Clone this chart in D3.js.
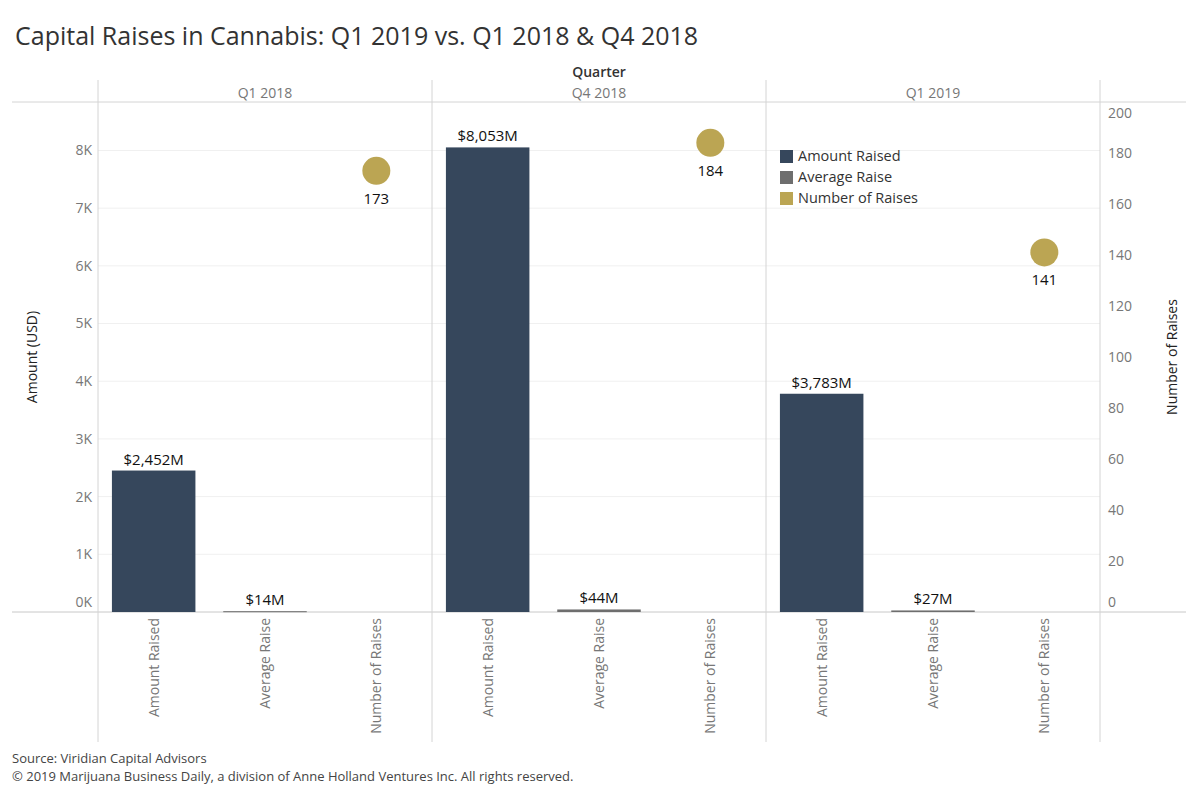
<!DOCTYPE html>
<html lang="en">
<head>
    <meta charset="UTF-8">
    <script src="https://d3js.org/d3.v7.min.js"></script>
    <title>Capital Raises in Cannabis</title>
    <style>
        body {
            margin: 0;
            overflow: hidden;
            background: white;
        }
        text {
            font-family: "Open Sans", sans-serif;
        }
    </style>
</head>
<body>
    <script>
        const quarters = ["Q1 2018", "Q4 2018", "Q1 2019"];
        const measures = ["Amount Raised", "Average Raise", "Number of Raises"];
        const amountRaised = [2452, 8053, 3783];   // $M
        const averageRaise = [14, 44, 27];        // $M
        const numberOfRaises = [173, 184, 141];
        const leftTicks = [0, 1000, 2000, 3000, 4000, 5000, 6000, 7000, 8000];
        const rightTicks = [0, 20, 40, 60, 80, 100, 120, 140, 160, 180, 200];

        const width = 1200, height = 800;
        const margin = { top: 102, left: 98, right: 100, bottom: 188 };
        const plotBottom = height - margin.bottom; // 612

        const svg = d3.select('body')
            .append('svg')
            .attr('width', width)
            .attr('height', height);

        const color = d3.scaleOrdinal()
            .domain(measures)
            .range(["#36475c", "#6e6e6e", "#bba553"]);

        const xQuarter = d3.scaleBand()
            .domain(quarters)
            .range([margin.left, width - margin.right])
            .padding(0);

        const xMeasure = d3.scaleBand()
            .domain(measures)
            .range([0, xQuarter.bandwidth()])
            .paddingInner(0.25)
            .paddingOuter(0.125);

        const yLeft = d3.scaleLinear()
            .domain([0, 8840])
            .range([plotBottom, margin.top]);

        const yRight = d3.scaleLinear()
            .domain([0, 200])
            .range([plotBottom, margin.top]);

        // gridlines
        svg.append('g')
            .selectAll('line')
            .data(leftTicks.slice(1))
            .enter()
            .append('line')
            .attr('x1', margin.left)
            .attr('x2', width - margin.right)
            .attr('y1', d => yLeft(d))
            .attr('y2', d => yLeft(d))
            .attr('stroke', '#f0f0f0')
            .attr('stroke-width', 1);

        // frame lines
        svg.append('line')
            .attr('x1', 12).attr('x2', 1186)
            .attr('y1', margin.top).attr('y2', margin.top)
            .attr('stroke', '#d4d4d4');
        svg.append('line')
            .attr('x1', 12).attr('x2', 1186)
            .attr('y1', plotBottom).attr('y2', plotBottom)
            .attr('stroke', '#c8c8c8');

        const dividers = quarters.map(q => xQuarter(q)).concat([width - margin.right]);
        svg.append('g')
            .selectAll('line')
            .data(dividers)
            .enter()
            .append('line')
            .attr('x1', d => d).attr('x2', d => d)
            .attr('y1', 80).attr('y2', 742)
            .attr('stroke', '#d4d4d4');

        // header
        svg.append('text')
            .attr('x', (margin.left + width - margin.right) / 2)
            .attr('y', 77)
            .attr('text-anchor', 'middle')
            .style('font-size', '14px')
            .style('font-weight', 600)
            .attr('fill', '#333')
            .text('Quarter');

        svg.append('g')
            .selectAll('text')
            .data(quarters)
            .enter()
            .append('text')
            .attr('x', d => xQuarter(d) + xQuarter.bandwidth() / 2)
            .attr('y', 98)
            .attr('text-anchor', 'middle')
            .style('font-size', '14px')
            .attr('fill', '#777')
            .text(d => d);

        // data marks
        const panel = svg.selectAll('g.panel')
            .data(quarters)
            .enter()
            .append('g')
            .attr('class', 'panel')
            .attr('transform', d => `translate(${xQuarter(d)},0)`);

        const bars = quarters.map((q, i) => [
            { q, m: "Amount Raised", v: amountRaised[i] },
            { q, m: "Average Raise", v: averageRaise[i] }
        ]);

        panel.each(function(q, i) {
            const g = d3.select(this);
            g.selectAll('rect')
                .data(bars[i])
                .enter()
                .append('rect')
                .attr('x', d => xMeasure(d.m))
                .attr('width', xMeasure.bandwidth())
                .attr('y', d => yLeft(d.v))
                .attr('height', d => Math.max(1, plotBottom - yLeft(d.v)))
                .attr('fill', d => color(d.m));

            g.selectAll('text.barlabel')
                .data(bars[i])
                .enter()
                .append('text')
                .attr('class', 'barlabel')
                .attr('x', d => xMeasure(d.m) + xMeasure.bandwidth() / 2)
                .attr('y', d => yLeft(d.v) - 6)
                .attr('text-anchor', 'middle')
                .style('font-size', '15px')
                .attr('fill', '#111')
                .text(d => '$' + d3.format(',')(d.v) + 'M');

            const cx = xMeasure("Number of Raises") + xMeasure.bandwidth() / 2;
            g.append('circle')
                .attr('cx', cx)
                .attr('cy', yRight(numberOfRaises[i]))
                .attr('r', 14)
                .attr('fill', color("Number of Raises"));

            g.append('text')
                .attr('x', cx)
                .attr('y', yRight(numberOfRaises[i]) + 33)
                .attr('text-anchor', 'middle')
                .style('font-size', '15px')
                .attr('fill', '#111')
                .text(numberOfRaises[i]);

            // category labels
            g.selectAll('text.cat')
                .data(measures)
                .enter()
                .append('text')
                .attr('class', 'cat')
                .attr('transform', d => `translate(${xMeasure(d) + xMeasure.bandwidth() / 2 + 5},${plotBottom + 6}) rotate(-90)`)
                .attr('text-anchor', 'end')
                .style('font-size', '14px')
                .attr('fill', '#777')
                .text(d => d);
        });

        // left axis labels
        svg.append('g')
            .selectAll('text')
            .data(leftTicks)
            .enter()
            .append('text')
            .attr('x', 92)
            .attr('y', d => d === 0 ? yLeft(d) - 10 : yLeft(d))
            .attr('dy', '0.35em')
            .attr('text-anchor', 'end')
            .style('font-size', '14px')
            .attr('fill', '#777')
            .text(d => d3.format('d')(d / 1000) + 'K');

        // right axis labels
        svg.append('g')
            .selectAll('text')
            .data(rightTicks)
            .enter()
            .append('text')
            .attr('x', 1108)
            .attr('y', d => d === 0 ? yRight(d) - 10 : (d === 200 ? yRight(d) + 11 : yRight(d)))
            .attr('dy', '0.35em')
            .attr('text-anchor', 'start')
            .style('font-size', '14px')
            .attr('fill', '#777')
            .text(d => d);

        svg.append('text')
            .attr('transform', `translate(37,357) rotate(-90)`)
            .attr('text-anchor', 'middle')
            .style('font-size', '14px')
            .attr('fill', '#222')
            .text('Amount (USD)');

        svg.append('text')
            .attr('transform', `translate(1177,357) rotate(-90)`)
            .attr('text-anchor', 'middle')
            .style('font-size', '14px')
            .attr('fill', '#222')
            .text('Number of Raises');

        // legend
        const legend = svg.append('g')
            .attr('transform', 'translate(780,156)');

        legend.selectAll('rect')
            .data(measures)
            .enter()
            .append('rect')
            .attr('x', 0)
            .attr('y', (d, i) => i * 21 - 6)
            .attr('width', 13)
            .attr('height', 13)
            .attr('fill', d => color(d));

        legend.selectAll('text')
            .data(measures)
            .enter()
            .append('text')
            .attr('x', 18)
            .attr('y', (d, i) => i * 21)
            .attr('dy', '0.35em')
            .style('font-size', '14.5px')
            .attr('fill', '#333')
            .text(d => d);

        // title and footer
        svg.append('text')
            .attr('x', 15)
            .attr('y', 45)
            .style('font-size', '25px')
            .attr('fill', '#333')
            .text('Capital Raises in Cannabis: Q1 2019 vs. Q1 2018 & Q4 2018');

        svg.append('text')
            .attr('x', 12)
            .attr('y', 763)
            .style('font-size', '13px')
            .attr('fill', '#444')
            .text('Source: Viridian Capital Advisors');

        svg.append('text')
            .attr('x', 12)
            .attr('y', 781)
            .style('font-size', '13px')
            .attr('fill', '#444')
            .text('© 2019 Marijuana Business Daily, a division of Anne Holland Ventures Inc. All rights reserved.');
    </script>
</body>
</html>
